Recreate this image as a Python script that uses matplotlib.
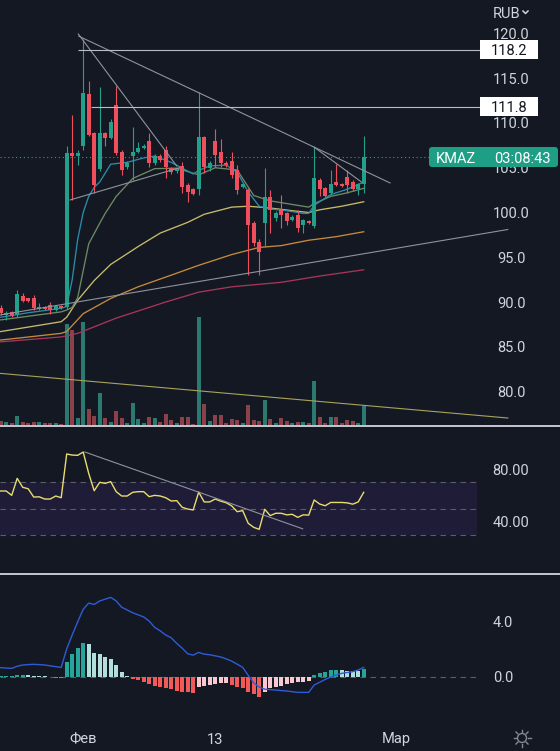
import numpy as np
import matplotlib.pyplot as plt
from matplotlib.patches import Rectangle, FancyBboxPatch, Circle
from matplotlib.lines import Line2D
from matplotlib.transforms import IdentityTransform, blended_transform_factory

# KMAZ candles, bar 0 = leftmost (half cut) candle
opens = [89.3, 88.55, 88.9, 88.55, 90.65, 90.4, 90.4, 89.2, 89.4, 89.65, 89.1, 89.55,
         89.4, 106.6, 106.35, 107.4, 113.2, 108.9, 104.9, 108.85, 108.35, 112.0, 106.8, 105.1,
         106.3, 106.8, 107.2, 108.0, 105.5, 106.3, 107.0, 104.95, 104.6, 105.2, 103.1, 102.6,
         102.6, 108.4, 104.95, 108.0, 106.8, 105.5, 105.7, 104.75, 102.8, 102.5, 98.8, 96.75,
         98.85, 101.75, 99.35, 100.3, 99.9, 99.15, 99.7, 98.6, 99.05, 98.5, 103.6, 102.7,
         102.2, 103.45, 103.2, 104.0, 103.45, 102.6, 103.2]
highs = [89.7, 88.95, 89.0, 91.35, 91.0, 90.5, 90.8, 89.9, 89.5, 90.0, 89.65, 89.65,
         107.4, 110.9, 107.0, 119.35, 114.7, 109.0, 114.0, 109.0, 110.4, 114.1, 107.0, 105.8,
         109.5, 107.9, 107.6, 108.85, 106.5, 106.5, 107.4, 105.1, 105.0, 105.6, 103.3, 102.7,
         113.5, 108.5, 105.7, 109.3, 108.2, 105.7, 106.8, 105.3, 103.3, 102.7, 99.0, 97.0,
         104.95, 102.5, 100.2, 102.0, 100.1, 99.7, 100.3, 99.3, 99.2, 107.3, 103.9, 102.9,
         104.8, 105.4, 103.3, 104.8, 103.6, 103.3, 108.5]
lows = [88.55, 88.0, 88.3, 88.35, 90.0, 90.0, 89.1, 89.1, 89.1, 88.7, 89.0, 89.2,
        89.2, 101.4, 105.3, 107.0, 108.5, 102.2, 104.6, 107.4, 108.2, 106.4, 104.2, 104.9,
        103.6, 106.6, 107.1, 105.1, 105.3, 105.6, 103.9, 104.3, 104.4, 102.2, 101.2, 101.9,
        102.0, 104.4, 104.6, 105.1, 105.1, 105.1, 103.9, 102.1, 102.7, 93.0, 96.3, 93.0,
        96.2, 97.7, 99.0, 98.3, 98.6, 99.0, 97.8, 97.7, 98.7, 98.3, 101.8, 101.7,
        101.9, 103.0, 102.9, 102.2, 102.4, 102.0, 102.2]
closes = [88.75, 88.75, 88.45, 90.85, 90.1, 90.1, 89.3, 89.4, 89.2, 89.1, 89.55, 89.3,
          106.6, 106.3, 106.65, 113.3, 108.7, 103.1, 108.9, 108.35, 110.1, 106.6, 104.75, 105.55,
          106.8, 107.15, 107.45, 105.5, 106.3, 105.9, 105.1, 104.55, 104.85, 102.9, 102.3, 102.05,
          108.4, 105.1, 105.5, 106.4, 105.5, 105.3, 104.2, 102.5, 103.2, 98.6, 96.55, 95.6,
          101.75, 100.3, 99.9, 99.7, 99.0, 99.55, 98.25, 99.15, 98.8, 103.9, 102.6, 101.85,
          103.2, 103.05, 103.0, 103.1, 102.6, 103.2, 106.2]
# volume, thousand shares
volumes = [40, 27, 20, 90, 33, 23, 33, 30, 17, 23, 23, 10,
           1010, 950, 73, 1030, 163, 90, 323, 73, 33, 143, 73, 23,
           223, 63, 23, 83, 67, 30, 110, 50, 23, 77, 77, 10,
           1080, 210, 40, 100, 100, 23, 63, 50, 23, 200, 50, 43,
           250, 63, 23, 73, 43, 23, 33, 33, 23, 443, 83, 23,
           83, 83, 23, 50, 37, 23, 193]

# moving averages as (bar, value) knots
ma1_bars = [0, 5, 11, 12, 13, 14, 15, 16, 17, 18, 20, 23, 26, 28, 31, 35, 36, 38, 41, 43,
            45, 47, 49, 52, 55, 56, 57, 60, 63, 66]
ma1 = [88.3, 88.8, 89.3, 89.5, 92.5, 97.0, 100.0, 101.8, 102.8, 103.4, 105.4, 105.6, 106.1,
       106.3, 105.6, 104.3, 104.7, 105.2, 105.3, 104.5, 102.3, 100.7, 100.4, 100.2, 99.9, 99.9,
       100.8, 102.0, 102.6, 103.4]
ma2_bars = [0, 11, 12, 13, 14, 15, 16, 18, 19, 21, 24, 28, 32, 36, 39, 43, 46, 49, 52, 56,
            57, 60, 63, 66]
ma2 = [88.0, 88.9, 89.1, 89.4, 90.5, 93.5, 96.5, 98.8, 99.9, 101.8, 103.8, 104.9, 104.95,
       104.2, 105.0, 104.75, 101.9, 101.3, 101.0, 100.6, 101.0, 101.8, 102.2, 102.7]
ma3_bars = [0, 11, 12, 14, 17, 20, 25, 29, 34, 37, 42, 45, 49, 53, 56, 58, 62, 66]
ma3 = [86.7, 87.8, 88.3, 90.2, 92.4, 94.2, 96.2, 97.7, 98.9, 99.8, 100.6, 100.7, 100.5,
       100.2, 100.0, 100.3, 100.7, 101.2]
ma4_bars = [0, 11, 12, 15, 20, 25, 31, 36, 42, 47, 51, 56, 61, 66]
ma4 = [85.75, 86.5, 86.7, 88.7, 90.4, 91.7, 93.0, 94.1, 95.3, 96.1, 96.3, 96.9, 97.3, 97.85]
ma5_bars = [0, 11, 14, 21, 30, 36, 42, 51, 58, 66]
ma5 = [85.55, 86.1, 86.5, 88.2, 90.0, 91.1, 91.7, 92.2, 92.9, 93.6]

rsi = [63.3, 63.3, 60.0, 72.9, 66.1, 65.0, 58.7, 58.9, 57.2, 57.2, 59.5, 58.2,
       91.4, 90.6, 90.4, 92.9, 76.7, 63.5, 69.9, 69.1, 70.4, 62.8, 59.5, 59.5,
       62.3, 62.8, 62.8, 59.0, 60.0, 59.5, 58.2, 55.7, 56.0, 50.9, 49.6, 48.9,
       62.5, 55.0, 55.0, 57.2, 55.6, 54.4, 52.0, 47.6, 48.4, 38.8, 35.7, 34.2,
       49.4, 44.6, 46.4, 46.4, 45.2, 45.6, 43.3, 45.2, 45.0, 56.5, 53.4, 52.1,
       54.6, 54.6, 54.6, 54.3, 53.3, 55.0, 62.3]
macd = [0.65, 0.62, 0.6, 0.75, 0.84, 0.87, 0.89, 0.87, 0.84, 0.78, 0.72, 0.67,
        2.0, 3.0, 3.95, 4.85, 5.3, 5.2, 5.45, 5.58, 5.71, 5.45, 5.0, 4.8,
        4.6, 4.45, 4.3, 4.0, 3.55, 3.3, 3.0, 2.8, 2.4, 2.05, 1.65, 1.55,
        1.75, 1.62, 1.58, 1.5, 1.42, 1.28, 1.12, 0.9, 0.67, 0.1, -0.45, -0.75,
        -0.9, -0.93, -0.96, -1.0, -1.03, -1.08, -1.13, -1.13, -1.13, -0.6, -0.4, -0.2,
        -0.02, 0.12, 0.24, 0.3, 0.36, 0.48, 0.67]
macd_hist = [0.02, 0.03, 0.06, 0.11, 0.15, 0.12, 0.08, 0.05, 0.02, -0.05, -0.08, -0.1,
             1.08, 1.63, 2.09, 2.45, 2.35, 1.73, 1.63, 1.39, 1.25, 0.84, 0.31, 0.05,
             -0.17, -0.26, -0.38, -0.55, -0.67, -0.74, -0.84, -0.91, -1.0, -1.08, -1.13, -1.15,
             -0.77, -0.67, -0.6, -0.53, -0.48, -0.43, -0.6, -0.72, -0.84, -1.08, -1.25, -1.44,
             -1.08, -0.84, -0.72, -0.65, -0.55, -0.48, -0.41, -0.36, -0.31, 0.1, 0.24, 0.34,
             0.48, 0.5, 0.47, 0.43, 0.41, 0.4, 0.53]

# user drawings: ((bar, price), (bar, price))
gray_lines = [((14.1, 119.95), (32.0, 105.2)),
              ((14.2, 119.7), (70.8, 103.3)),
              ((12.6, 101.4), (32.5, 105.0)),
              ((57.0, 107.3), (65.6, 103.4)),
              ((-0.13, 88.55), (92.2, 98.1))]
yellow_line = ((-0.13, 82.03), (92.2, 77.04))
h_levels = [118.2, 111.8]
h_level_start = [14.1, 16.5]
rsi_trend = ((15.3, 92.9), (54.9, 34.6))

price_ticks = [120, 115, 110, 105, 100, 95, 90, 85, 80]
rsi_ticks = [80, 40]
macd_ticks = [4.0, 0.0]
date_labels = ['Фев', '13', 'Мар']
date_bars = [15, 39, 72]
ticker = 'KMAZ'
countdown = '03:08:43'

# ---- style / layout ----
W, H = 560, 751
BG = '#141823'
TXT = '#d1d4dc'
UP, DN = '#22a08c', '#ef4f5c'
STEP, FIRST = 5.5, 0.7          # px per bar, px of bar 0
VA = 'center_baseline'
plt.rcParams['font.family'] = ['Roboto', 'DejaVu Sans']

fig = plt.figure(figsize=(W / 100, H / 100), dpi=100, facecolor=BG)
xlim = (-FIRST / STEP, (W - FIRST) / STEP)


def px_bar(px):
    return (px - FIRST) / STEP


def pane(top, bottom):
    a = fig.add_axes([0, 1 - bottom / H, 1, (bottom - top) / H])
    a.set_xlim(*xlim)
    a.set_axis_off()
    return a


ax_vol = pane(0, 425)
ax = pane(0, 425)
ax_rsi = pane(427, 572)
ax_macd = pane(575, H)

o, h, l, c = map(np.array, (opens, highs, lows, closes))
x = np.arange(len(c))
col = np.where(c >= o, UP, DN)

# volume overlay
vcol = np.where(c >= o, '#2b7a72', '#8c404a')
ax_vol.bar(x, volumes, 0.72, color=vcol, linewidth=0)
ax_vol.set_ylim(0, 4250)

# price pane
ax.set_ylim(76.26, 123.74)
ppu = 425 / (123.74 - 76.26)
for bars, vals, cl in [(ma5_bars, ma5, '#a8355a'), (ma4_bars, ma4, '#c68a3c'),
                       (ma3_bars, ma3, '#c8bb6b'), (ma2_bars, ma2, '#6e8a63'),
                       (ma1_bars, ma1, '#2a8cab')]:
    ax.plot(bars, vals, color=cl, lw=0.95, zorder=2)

ax.vlines(x, l, h, colors=col, lw=0.8, zorder=3)
ax.bar(x, np.maximum(np.abs(c - o), 0.12), 0.76, bottom=np.minimum(o, c),
       color=col, linewidth=0, zorder=4)

for (x0, y0), (x1, y1) in gray_lines:
    ax.plot([x0, x1], [y0, y1], color='#8f939c', lw=0.8, zorder=5)
(x0, y0), (x1, y1) = yellow_line
ax.plot([x0, x1], [y0, y1], color='#a9a35a', lw=0.8, zorder=5)

ax.hlines(c[-1], xlim[0], px_bar(429), color=UP, lw=0.8, linestyles=(0, (1, 2.5)), zorder=5)

tr = blended_transform_factory(ax.transAxes, ax.transData)
for t in price_ticks:
    ax.text(511 / W, t, f'{t:.1f}', transform=tr, ha='center', va=VA,
            color=TXT, fontsize=10.5)
for lvl, xs in zip(h_levels, h_level_start):
    ax.hlines(lvl, xs, px_bar(480), color='#b9bcc4', lw=0.8, zorder=5)
    ax.add_patch(Rectangle((480 / W, lvl - 9.5 / ppu), 58 / W, 19 / ppu, transform=tr,
                           fc='white', ec='none', zorder=8, clip_on=False))
    ax.text(509 / W, lvl, f'{lvl:.1f}', transform=tr, ha='center', va=VA,
            color='#131722', fontsize=10.5, zorder=9)

# last price tag
yd = ax.transData.transform((0, c[-1]))[1]
fig.add_artist(FancyBboxPatch((429, yd - 10), 129, 20, boxstyle='round,pad=0,rounding_size=3',
                              transform=IdentityTransform(), fc='#1f9e86', ec='none'))
fig.text(436 / W, yd / H, ticker, ha='left', va=VA, color='white', fontsize=10.5)
fig.text(522 / W, yd / H, countdown, ha='center', va=VA, color='white', fontsize=10.5)

fig.text(493 / W, 1 - 12 / H, 'RUB', ha='left', va=VA, color=TXT, fontsize=10.5)
fig.add_artist(Line2D([523, 525.5, 528], [H - 11, H - 13.5, H - 11], color=TXT, lw=1.1,
                      transform=IdentityTransform()))

# pane separators
for ysep in (426, 573.5):
    fig.add_artist(Line2D([0, 1], [1 - ysep / H] * 2, transform=fig.transFigure,
                          color='#c4c7ce', lw=1.4))

# RSI pane
ax_rsi.set_ylim(1.8, 111.9)
ax_rsi.axhspan(30, 70, xmin=0, xmax=477 / W, color='#1e1c36', lw=0)
for lv in (70, 50, 30):
    ax_rsi.axhline(lv, xmin=0, xmax=477 / W, color='#5b5e6a', lw=0.8, ls=(0, (5, 4)))
ax_rsi.plot(x, rsi, color='#e9dc6f', lw=1.0, zorder=3)
(x0, y0), (x1, y1) = rsi_trend
ax_rsi.plot([x0, x1], [y0, y1], color='#8f939c', lw=0.8, zorder=4)
tr_r = blended_transform_factory(ax_rsi.transAxes, ax_rsi.transData)
for t in rsi_ticks:
    ax_rsi.text(511 / W, t, f'{t:.2f}', transform=tr_r, ha='center', va=VA,
                color=TXT, fontsize=10.5)

# MACD pane
ax_macd.set_ylim(-5.35, 7.32)
ax_macd.axhline(0, xmin=0, xmax=477 / W, color='#5b5e6a', lw=0.8, ls=(0, (5, 4)))
hist = np.array(macd_hist)
prev = np.concatenate([[0], hist[:-1]])
hcol = np.where(hist >= 0, np.where(hist >= prev, '#26a69a', '#b2dfdb'),
                np.where(hist <= prev, '#f25a5a', '#f8c8d0'))
ax_macd.bar(x, hist, 0.78, color=hcol, linewidth=0, zorder=2)
ax_macd.plot(x, macd, color='#2f5bd6', lw=1.0, zorder=3)
tr_m = blended_transform_factory(ax_macd.transAxes, ax_macd.transData)
for t in macd_ticks:
    ax_macd.text(503 / W, t, f'{t:.1f}', transform=tr_m, ha='center', va=VA,
                 color=TXT, fontsize=10.5)

tr_t = blended_transform_factory(ax_macd.transData, ax_macd.transAxes)
for lab, b in zip(date_labels, date_bars):
    ax_macd.text(b, (H - 738) / 176, lab, transform=tr_t, ha='center', va=VA,
                 color=TXT, fontsize=10.5)

# settings (sun) icon
gx, gy = 522, H - 738
fig.add_artist(Circle((gx, gy), 4.5, transform=IdentityTransform(), fill=False,
                      ec='#868993', lw=1.0))
for ang in np.arange(8) * np.pi / 4:
    fig.add_artist(Line2D([gx + 6 * np.cos(ang), gx + 8.5 * np.cos(ang)],
                          [gy + 6 * np.sin(ang), gy + 8.5 * np.sin(ang)],
                          transform=IdentityTransform(), color='#868993', lw=1.0))

fig.savefig('out.png', dpi=100, facecolor=BG)
